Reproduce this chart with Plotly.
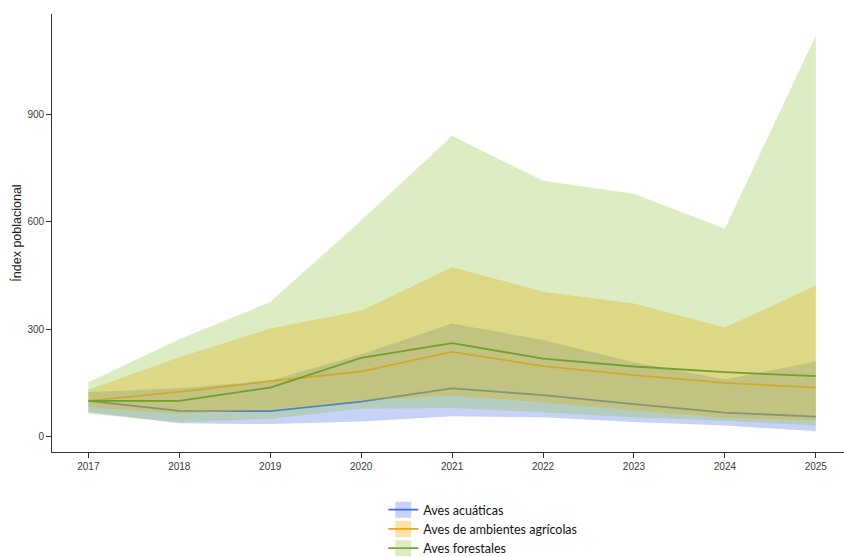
import plotly.graph_objects as go

years = [2017, 2018, 2019, 2020, 2021, 2022, 2023, 2024, 2025]

# Aves acuáticas
acuaticas_mean = [100, 72, 71, 98, 135, 116, 91, 67, 56]
acuaticas_low = [68, 37, 35, 42, 57, 54, 41, 31, 15]
acuaticas_high = [125, 135, 157, 230, 316, 270, 208, 160, 210]

# Aves de ambientes agrícolas
agricolas_mean = [100, 125, 155, 182, 237, 197, 172, 150, 137]
agricolas_low = [82, 64, 76, 100, 115, 96, 73, 53, 45]
agricolas_high = [131, 222, 302, 352, 473, 405, 372, 305, 422]

# Aves forestales
forestales_mean = [100, 100, 137, 220, 261, 218, 196, 180, 169]
forestales_low = [64, 40, 50, 78, 80, 68, 54, 44, 31]
forestales_high = [152, 272, 376, 604, 841, 715, 679, 581, 1121]

y_ticks = [0, 300, 600, 900]

series = [
    ("Aves acuáticas", acuaticas_mean, acuaticas_low, acuaticas_high,
     "#4169E1", "rgba(65,105,225,0.30)"),
    ("Aves de ambientes agrícolas", agricolas_mean, agricolas_low, agricolas_high,
     "#E9A21F", "rgba(255,170,0,0.35)"),
    ("Aves forestales", forestales_mean, forestales_low, forestales_high,
     "#6FA02E", "rgba(140,195,60,0.30)"),
]

fig = go.Figure()
for name, mean, low, high, line_col, fill_col in series:
    # ribbon: upper bound forward, lower bound back
    fig.add_trace(go.Scatter(
        x=years + years[::-1], y=high + low[::-1],
        fill="toself", fillcolor=fill_col, mode="none",
        hoverinfo="skip", showlegend=False, legendgroup=name))
    fig.add_trace(go.Scatter(
        x=years, y=mean, mode="lines", line=dict(color=line_col, width=1.8),
        name=name, showlegend=False, legendgroup=name))
    # legend key only (no data)
    fig.add_trace(go.Scatter(
        x=[None], y=[None], mode="lines+markers", name=name, legendgroup=name,
        line=dict(color=line_col, width=1.8),
        marker=dict(symbol="square", size=16, color=fill_col)))

axis_common = dict(
    showgrid=False, zeroline=False, showline=True, linecolor="#333333", linewidth=0.8,
    ticks="outside", ticklen=5, tickwidth=0.8, tickcolor="#333333", automargin=False,
    tickfont=dict(family="Liberation Sans", size=10, color="#3A3A3A"),
)

fig.update_layout(
    width=844, height=557,
    paper_bgcolor="white", plot_bgcolor="white",
    margin=dict(l=52, r=0, t=14, b=105, autoexpand=False),
    xaxis=dict(range=[2016.6, 2025.31], tickvals=years, **axis_common),
    yaxis=dict(range=[-43, 1181], tickvals=y_ticks,
               title=dict(text="Índex poblacional", standoff=3,
                          font=dict(family="Liberation Sans", size=12.5, color="#222222")),
               **axis_common),
    showlegend=True,
    legend=dict(orientation="v", x=0.4183, xanchor="left", y=-0.0982, yanchor="top",
                font=dict(family="Lato", size=12.5, color="#111111"),
                bgcolor="rgba(0,0,0,0)", itemwidth=30, tracegroupgap=0),
)

# drop the page's default body margin so the figure sits at the top-left corner
fig.write_html("out.html", config={"displayModeBar": False},
               post_script="document.body.style.margin = '0';")
